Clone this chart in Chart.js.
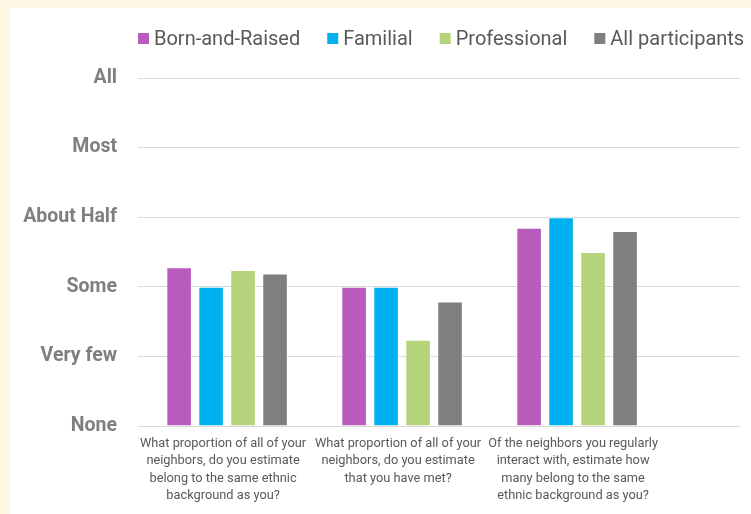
<!DOCTYPE html>
<html>
<head>
<meta charset="utf-8">
<script src="https://cdn.jsdelivr.net/npm/chart.js@4.4.1/dist/chart.umd.min.js"></script>
<style>
  html, body { margin: 0; padding: 0; background: #fef6e5; }
  .frame { position: absolute; left: 10px; top: 8px; width: 741px; height: 506px; background: #ffffff; }
</style>
</head>
<body>
<div class="frame"><canvas id="chart"></canvas></div>
<script>
// survey questions, one group of bars each
const questions = [
    ['What proportion of all of your', 'neighbors, do you estimate', 'belong to the same ethnic', 'background as you?'],
    ['What proportion of all of your', 'neighbors, do you estimate', 'that you have met?'],
    ['Of the neighbors you regularly', 'interact with, estimate how', 'many belong to the same', 'ethnic background as you?']
];
const levelLabels = ['None', 'Very few', 'Some', 'About Half', 'Most', 'All'];

const bornAndRaised = [2.28, 2.0, 2.85];
const familial = [2.0, 2.0, 3.0];
const professional = [2.24, 1.24, 2.5];
const allParticipants = [2.19, 1.79, 2.8];

const groups = [
    { label: 'Born-and-Raised', values: bornAndRaised, color: '#b95bbd' },
    { label: 'Familial', values: familial, color: '#00b0f0' },
    { label: 'Professional', values: professional, color: '#b5d37b' },
    { label: 'All participants', values: allParticipants, color: '#7f7f7f' }
];

const datasets = groups.map(g => ({
    label: g.label,
    data: g.values.map((v, i) => ({ x: i, y: v })),
    backgroundColor: g.color,
    borderColor: 'rgba(255,255,255,0.6)',
    borderWidth: 1,
    categoryPercentage: 0.731,
    barPercentage: 0.8
}));

// one-row legend lined up with the left edge of the plot
const rowLegend = {
    id: 'rowLegend',
    afterDraw(chart) {
        const c = chart.ctx;
        let x = chart.chartArea.left;
        const y = 30.5;
        c.save();
        c.font = '20px Roboto';
        c.textBaseline = 'middle';
        chart.data.datasets.forEach(ds => {
            c.fillStyle = ds.backgroundColor;
            c.fillRect(x, y - 5.5, 11, 11);
            c.fillStyle = '#595959';
            c.fillText(ds.label, x + 16, y + 1);
            x += 16 + c.measureText(ds.label).width + 27;
        });
        c.restore();
    }
};

const ctx = document.getElementById('chart').getContext('2d');
new Chart(ctx, {
    type: 'bar',
    data: { datasets },
    plugins: [rowLegend],
    options: {
        responsive: true,
        maintainAspectRatio: false,
        animation: false,
        layout: { padding: { top: 70, right: 11, bottom: 0, left: 0 } },
        plugins: {
            tooltip: { enabled: false },
            legend: { display: false }
        },
        scales: {
            x: {
                type: 'linear',
                offset: false,
                min: -0.509,
                max: 2.931,
                grid: { display: false },
                border: { display: false },
                afterBuildTicks: scale => {
                    scale.ticks = questions.map((q, i) => ({ value: i }));
                },
                afterFit: scale => { scale.height = 88; },
                ticks: {
                    autoSkip: false,
                    maxRotation: 0,
                    padding: 1,
                    labelOffset: -4,
                    color: '#595959',
                    font: { family: 'Roboto', size: 12.8, lineHeight: 1.36 },
                    callback: v => questions[v]
                }
            },
            y: {
                min: 0,
                max: 5,
                grid: { color: '#d9d9d9', drawTicks: false },
                border: { display: false },
                afterFit: scale => { scale.width = 128; },
                ticks: {
                    stepSize: 1,
                    padding: 21,
                    color: '#7f7f7f',
                    font: { family: 'Roboto', size: 19.5, weight: 'bold' },
                    callback: v => levelLabels[v]
                }
            }
        }
    }
});
</script>
</body>
</html>
